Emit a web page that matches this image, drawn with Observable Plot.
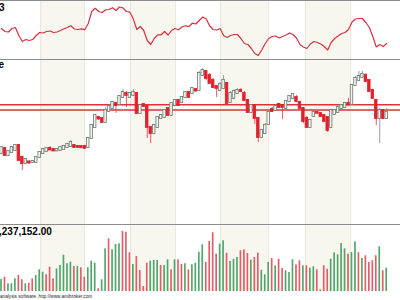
<!DOCTYPE html>
<html>
<head>
<meta charset="utf-8">
<script src="https://cdn.jsdelivr.net/npm/d3@7"></script>
<script src="https://cdn.jsdelivr.net/npm/@observablehq/plot@0.6"></script>
<style>
  html, body { margin: 0; padding: 0; background: #ffffff; }
  #chart { position: relative; width: 400px; height: 300px; overflow: hidden; background: #ffffff; font-family: "Liberation Sans", Arial, sans-serif; }
  .pane { position: absolute; left: 0; width: 400px; }
  .pane svg { display: block; }
  .sep { position: absolute; left: 0; width: 400px; background: #8c8c8c; }
  .lbl { position: absolute; font-weight: bold; font-size: 10px; line-height: 10px; color: #000; white-space: nowrap; }
  .cap { position: absolute; font-size: 4.7px; line-height: 5px; color: #222; white-space: nowrap; }
</style>
</head>
<body>
<div id="chart"></div>
<script>
// ---- data ----
const opens  = [97,102,95,98,100,105,93,87,88.5,88,88,93,97,99,102,101,99.5,100,101,103,104,105,104,104,104,103,112,123,133,132,128,139,142,147,146,153,157,153,155,157,137,146,144,123,117,123,132,133,142,135,145,150,148,153,158,157,161,160,175,179,175,170,164,160,162,167,148,152,157,160,157,150,138,145,132,113,117,126,141,140,146,145,142,149,152,153,148,142,132,123,134,138,137,135,133,123,136,138,142,143,147,146,165,170,173,175,170,160,150,132,140,132];
const highs  = [104,103,100,104,106,106,94,92,90,90,94,99,102,103,104,102,102,104,105,107,110,106,105,105,105,113,126,136,134,133,143,146,149,148,155,161,159,158,161,158,146,147,145,124,126,134,136,141,143,148,151,151,154,159,159,163,162,179,182,180,177,172,165,168,175,168,159,161,162,162,159,151,146,146,133,121,127,140,143,146,147,146,150,155,157,155,149,143,134,131,139,139,138,136,134,141,141,144,146,148,152,166,174,179,179,177,171,161,151,142,141,142];
const lows   = [96,94,94,97,99,89,80,86,86,87,87,92,96,98,100,99,99,99,100,102,103,102,102,102,101,102,111,122,130,127,127,138,141,137,145,152,143,152,154,136,136,143,112,107,116,122,131,132,134,134,144,144,147,152,152,156,158,159,174,170,166,162,153,159,161,146,147,151,156,158,149,137,137,126,108,112,116,125,138,139,142,131,141,148,151,148,141,127,122,122,133,137,133,128,118,122,135,137,141,142,145,145,164,169,172,168,158,151,125,107,131,131];
const closes = [103,95,99,103,105,90,87,91,87.5,89,93,98,101,102,100.5,99.5,101,103,104,106,108,103,103.2,102.8,102.2,112,125,135,131.5,128,140,144,148,145,154,158,155,157,158,137,145,144,123,117,125,133,135,140,135,147,150,145,153,158,153,162,159.5,177,180,172,167,163,162,166,170,147,157,159,160,159,150,138,145,132,113,120,125,138,139,144,143,143,149,154,156,149,142,129,123,130,138,137.2,134,129,120,140,140,143,145,147,145.5,165,172,174,176,169,159,152,132,140,132,138];
// volume, millions of shares
const volumes = [2.69,3.20,1.72,1.72,2.84,3.58,2.62,1.72,1.86,2.84,3.58,4.86,4.32,3.74,5.44,2.84,5.08,5.82,8.13,6.20,6.56,5.60,5.60,5.31,3.20,5.31,6.79,6.34,0.60,2.62,9.56,11.80,9.34,10.53,10.68,13.44,13.28,8.67,6.05,7.84,4.70,1.12,6.34,6.79,6.94,6.94,5.82,5.82,7.10,4.86,7.10,7.10,6.05,6.20,4.86,5.98,6.34,8.80,10.46,6.50,11.20,13.15,8.36,10.60,11.36,8.58,6.72,7.24,7.62,9.12,9.34,8.51,7.01,7.62,8.58,4.77,3.74,6.50,7.39,5.76,7.24,5.15,4.64,4.26,7.10,5.98,6.88,5.76,5.76,5.22,5.53,4.86,0.38,5.76,5.00,7.24,8.67,8.22,10.75,9.56,8.36,8.74,11.13,8.67,7.39,8.00,6.50,6.88,8.00,10.01,4.64,5.24];
// G = up day volume, R = down day volume
const volumeDirection = ("GRGGGRRGRR" + "GGGRRRGGGG" + "GRGRRGGGRG" + "GRGGGRRRGR" + "RRRGGGRGGR" +
                         "GRRGRGGGGR" + "RRRGGRGGGR" + "RRGRRGGGRG" + "RRGGGRRGRG" + "GRRRRGGGGG" + "RGGRGRRRRGRG").split("");
// oscillator in upper pane
const indicator = [53,50,49.5,53,54,46,40,42,41,42,46,49,48.5,50,50.5,49,49.5,51,52.7,54,55.7,52.5,52,52.7,51.8,58,70,73.2,70,69,71.7,72,73.8,71,74.5,73.7,70,69.3,62.4,52,55,51,41,37,43,46.7,46.7,50,46.5,51,53,51.8,54.5,55.7,55,58.3,57.5,61,64.5,62.5,55.5,52,51.5,53,46,44,46,47,47,43,38,37,33,28,26,31.5,38,43,45,45.5,43.5,45,46.5,48.5,47,43.5,37,34.5,33,37.5,40,39,37.5,35,31.5,39,43,45.5,48,49,52,59.5,62.5,63,63,59,54,45,34.5,37,35,38];
// shaded period bands (bar index positions)
const bandStarts = [11.3, 37.2, 63.1, 87.6];
const bandEnds   = [23.9, 50.1, 77.0, 100.6];
// horizontal price levels
const levels = [145.8, 140.5];
// texts
const indicatorLabel = "3";
const priceLabel = "e";
const volumeLabel = ",237,152.00";
const caption = "analysis software. http://www.amibroker.com";

// ---- build ----
const bars = opens.map((o, i) => ({
  i, o, h: highs[i], l: lows[i], c: closes[i], up: closes[i] >= o,
  v: volumes[i], vup: volumeDirection[i] === "G"
}));
const indSeries = indicator.map((v, i) => ({i, v}));
const bands = bandStarts.map((s, k) => ({s, e: bandEnds[k]}));
const bounds = bandStarts.concat(bandEnds);

const xScale = {domain: [-0.288, 114.98], range: [0, 400], axis: null};
const bandMarks = [
  Plot.rect(bands, {x1: "s", x2: "e", fill: "#f8f7ef"}),
  Plot.ruleX(bounds, {stroke: "#e8e6dc", strokeWidth: 1})
];
const baseStyle = {background: "transparent", overflow: "hidden"};

const pane1 = Plot.plot({
  width: 400, height: 58, margin: 0, style: baseStyle,
  x: xScale,
  y: {domain: [20, 80], range: [60, 0], axis: null},
  marks: [
    ...bandMarks,
    Plot.line(indSeries, {x: "i", y: "v", stroke: "#d9303e", strokeWidth: 1.2})
  ]
});

const pane2 = Plot.plot({
  width: 400, height: 164, margin: 0, style: baseStyle,
  x: xScale,
  y: {domain: [26, 190], range: [164, 0], axis: null},
  marks: [
    ...bandMarks,
    Plot.ruleY(levels, {stroke: "#e0303c", strokeWidth: 1.5}),
    Plot.ruleX(bars, {x: "i", y1: "l", y2: "h", stroke: d => d.up ? "#7d8a80" : "#e2303c", strokeWidth: 0.8}),
    Plot.rect(bars, {
      x1: d => d.i - 0.36, x2: d => d.i + 0.36, y1: "o", y2: "c",
      fill: d => d.up ? "#f3f3ef" : "#e41f2c",
      stroke: d => d.up ? "#6b7b70" : "#e41f2c",
      strokeWidth: 0.8, insetTop: -0.5, insetBottom: -0.5
    })
  ]
});

const pane3 = Plot.plot({
  width: 400, height: 67, margin: 0, style: baseStyle,
  x: xScale,
  y: {domain: [0, 14.784], range: [66, 0], axis: null},
  marks: [
    ...bandMarks,
    Plot.rect(bars, {
      x1: d => d.i - 0.24, x2: d => d.i + 0.24, y1: 0, y2: "v",
      fill: d => d.vup ? "#4fa66c" : "#e35c68"
    })
  ]
});

const root = document.getElementById("chart");
function place(node, top) {
  const d = document.createElement("div");
  d.className = "pane"; d.style.top = top + "px";
  d.appendChild(node); root.appendChild(d);
}
place(pane1, 1);
place(pane2, 60);
place(pane3, 225);

function sep(top, h) {
  const s = document.createElement("div");
  s.className = "sep"; s.style.top = top + "px"; s.style.height = h + "px";
  root.appendChild(s);
}
sep(0, 1);
sep(58.5, 1.6);
sep(223.5, 1.6);

function label(text, left, top, cls) {
  const t = document.createElement("div");
  t.className = cls; t.textContent = text;
  t.style.left = left + "px"; t.style.top = top + "px";
  root.appendChild(t);
}
label(indicatorLabel, -1, 2.5, "lbl");
label(priceLabel, -1.5, 59.5, "lbl");
label(volumeLabel, -1, 226.5, "lbl");
label(caption, 0, 293.5, "cap");
</script>
</body>
</html>
